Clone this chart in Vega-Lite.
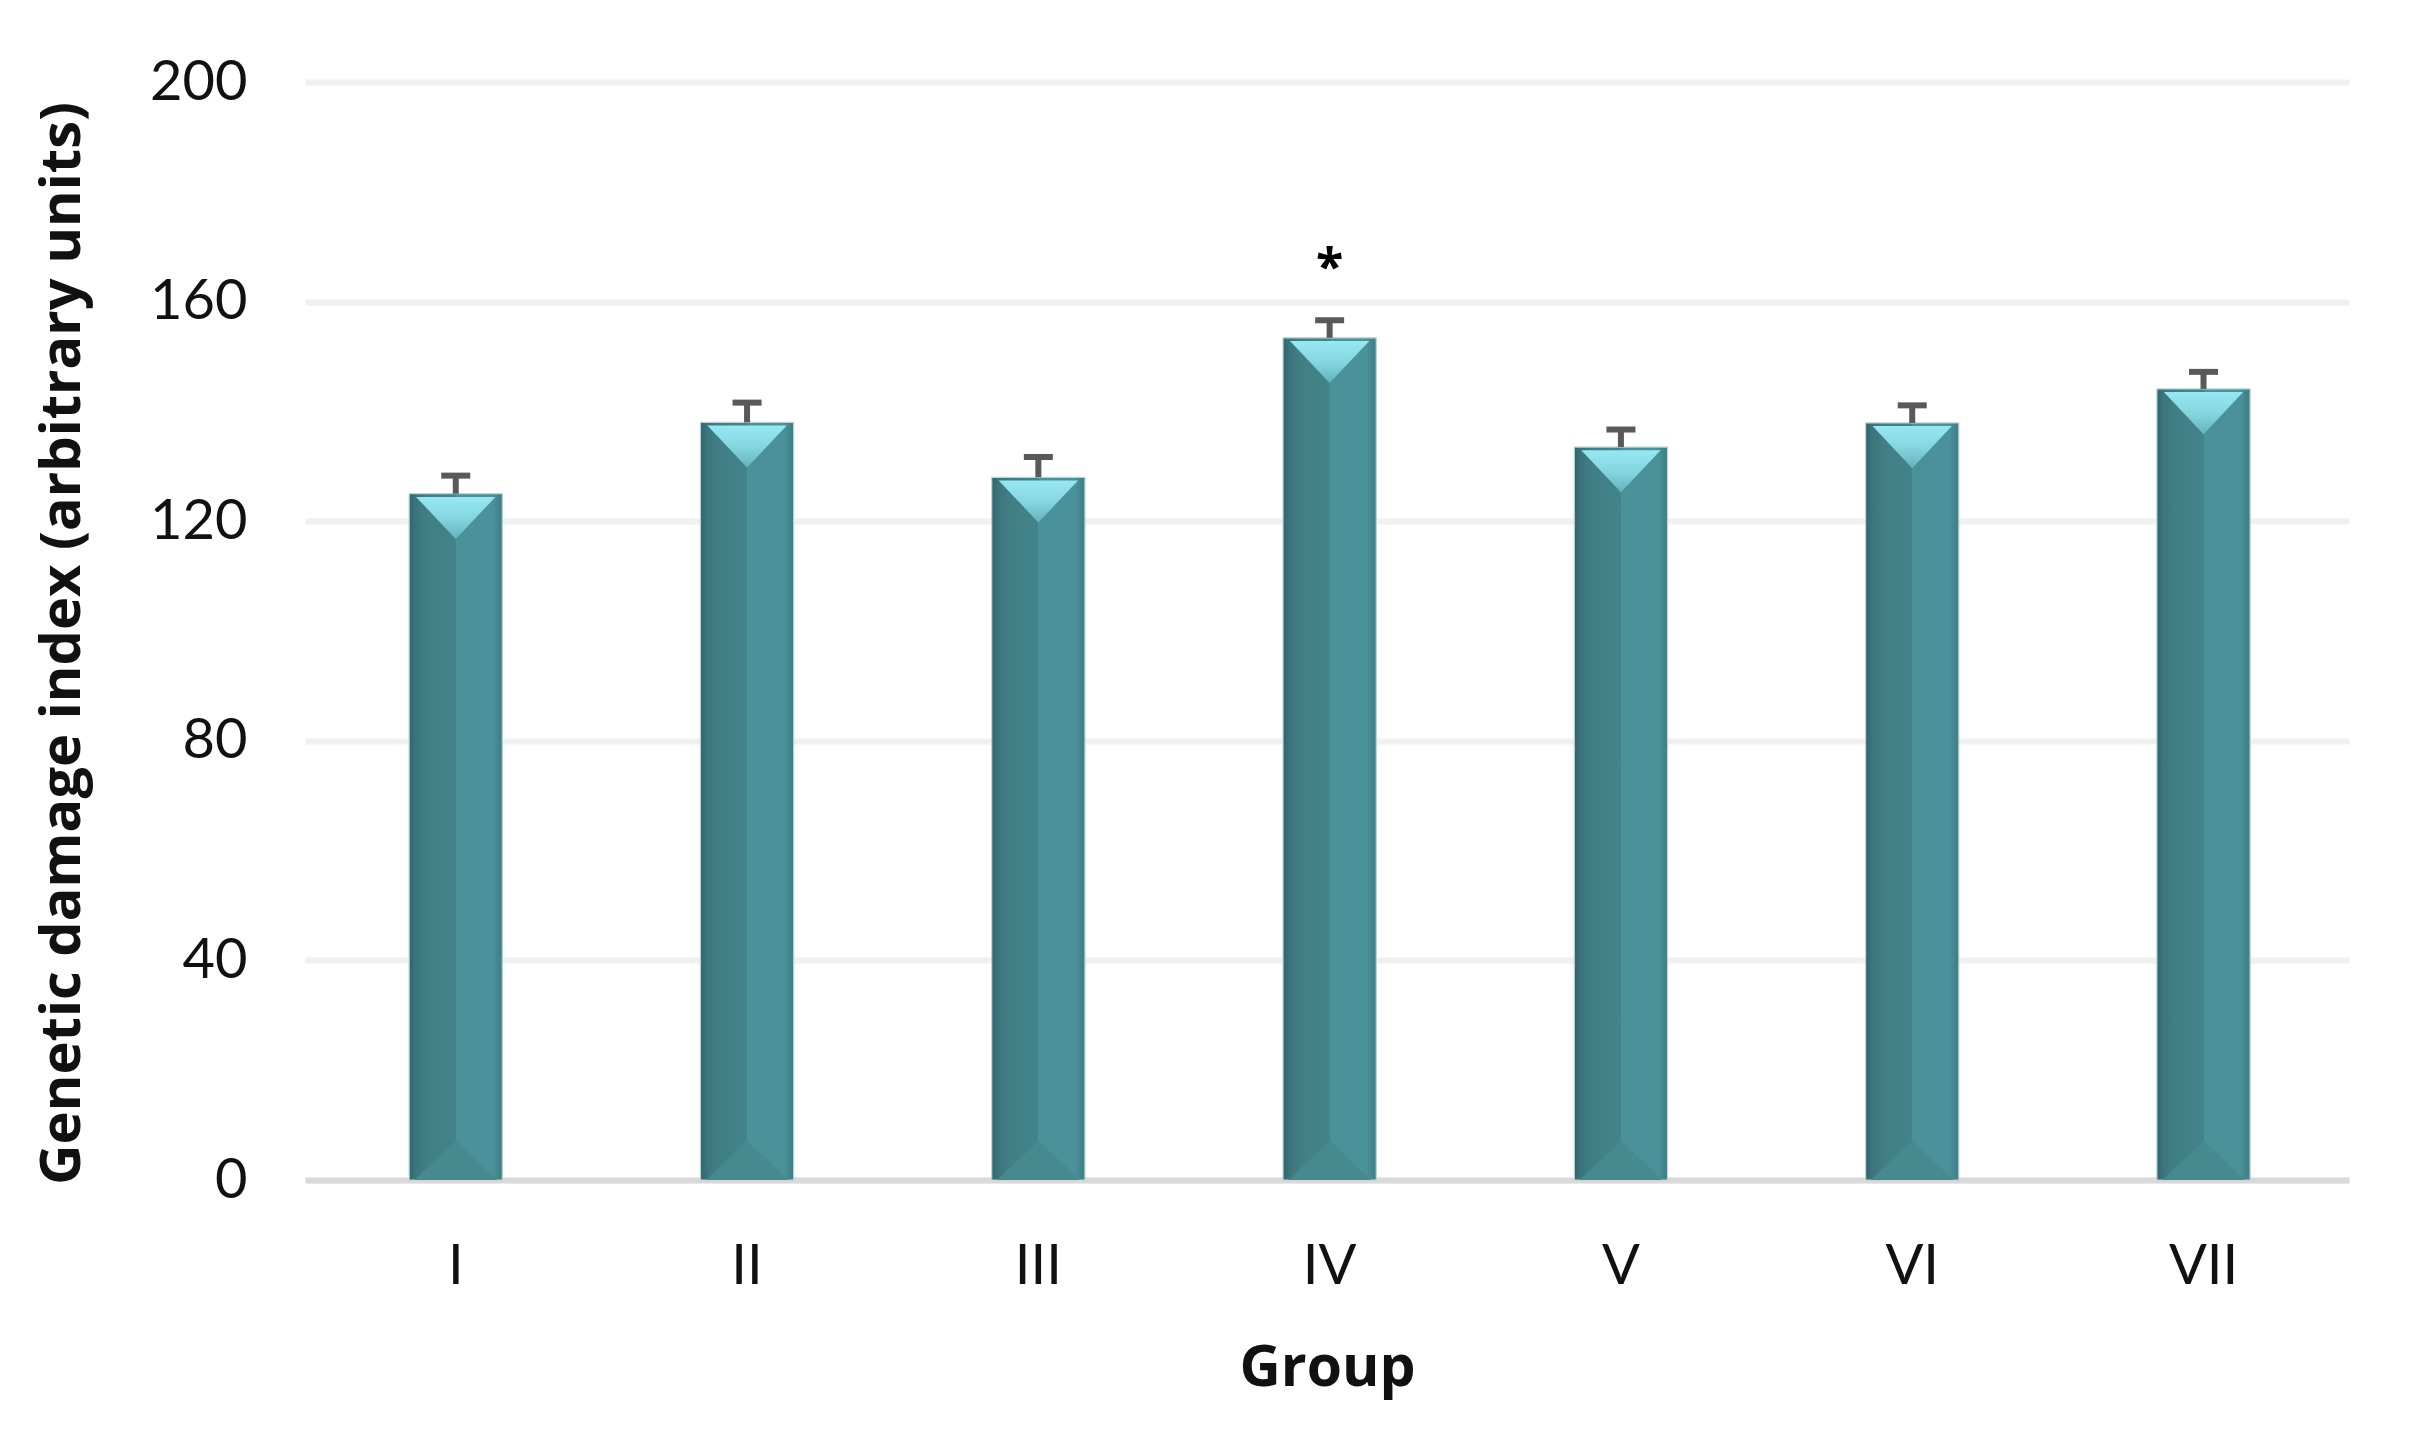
{
  "$schema": "https://vega.github.io/schema/vega-lite/v6.json",
  "width": 2044,
  "height": 1098,
  "autosize": "none",
  "padding": {"left": 305, "top": 82, "right": 69, "bottom": 260},
  "background": "white",
  "config": {
    "view": {"stroke": null},
    "font": "Lato"
  },
  "data": {
    "values": [
      {"group": "I", "mean": 125, "upper": 128.3, "sig": ""},
      {"group": "II", "mean": 138, "upper": 141.6, "sig": ""},
      {"group": "III", "mean": 128, "upper": 131.7, "sig": ""},
      {"group": "IV", "mean": 153.4, "upper": 156.6, "sig": "*"},
      {"group": "V", "mean": 133.5, "upper": 136.7, "sig": ""},
      {"group": "VI", "mean": 137.9, "upper": 141.1, "sig": ""},
      {"group": "VII", "mean": 144.1, "upper": 147.2, "sig": ""}
    ]
  },
  "encoding": {
    "x": {
      "field": "group",
      "type": "nominal",
      "sort": null,
      "scale": {"paddingInner": 0.68, "paddingOuter": 0.3485, "align": 0.513},
      "axis": {
        "title": "Group",
        "labelAngle": 0,
        "labelFont": "Lato",
        "labelFontSize": 56,
        "labelColor": "#111111",
        "labelBaseline": "alphabetic",
        "labelPadding": 103,
        "ticks": false,
        "domainColor": "#d9d9d9",
        "domainWidth": 6,
        "grid": false,
        "titleFont": "Open Sans",
        "titleFontSize": 57,
        "titleFontWeight": "bold",
        "titleColor": "#111111",
        "titleBaseline": "alphabetic",
        "titleY": 205,
        "titleX": 1022,
        "titleAlign": "center"
      }
    }
  },
  "layer": [
    {
      "mark": {
        "type": "bar",
        "stroke": "#b9d2d5",
        "strokeWidth": 1.2,
        "color": {
          "gradient": "linear",
          "x1": 0, "y1": 0, "x2": 1, "y2": 0,
          "stops": [
            {"offset": 0, "color": "#2f656c"},
            {"offset": 0.07, "color": "#3b757c"},
            {"offset": 0.2, "color": "#417f86"},
            {"offset": 0.5, "color": "#43838a"},
            {"offset": 0.5, "color": "#4a9199"},
            {"offset": 0.9, "color": "#4a9199"},
            {"offset": 0.95, "color": "#43868e"},
            {"offset": 1, "color": "#3f7e86"}
          ]
        }
      },
      "encoding": {
        "y": {
          "field": "mean",
          "type": "quantitative",
          "scale": {"domain": [0, 200]},
          "axis": {
            "values": [0, 40, 80, 120, 160, 200],
            "title": "Genetic damage index (arbitrary units)",
            "titleFont": "Open Sans",
            "titleFontSize": 56,
            "titleFontWeight": "bold",
            "titleColor": "#111111",
            "titleAngle": -90,
            "titleX": -243,
            "titleY": 561,
            "titleAlign": "center",
            "titleBaseline": "middle",
            "labelFont": "Lato",
            "labelFontSize": 56,
            "labelColor": "#111111",
            "labelPadding": 58,
            "ticks": false,
            "domain": false,
            "grid": true,
            "gridColor": "#f0f0f0",
            "gridWidth": 6
          }
        }
      }
    },
    {
      "mark": {
        "type": "point",
        "filled": true,
        "opacity": 1,
        "strokeWidth": 0,
        "shape": "M-1,0L1,0L0,-0.95Z",
        "size": 6800,
        "color": "#46898f"
      },
      "encoding": {
        "y": {"datum": 0, "type": "quantitative"}
      }
    },
    {
      "mark": {
        "type": "point",
        "filled": true,
        "opacity": 1,
        "strokeWidth": 0,
        "shape": "M-1,0.08L1,0.08L0,1.14Z",
        "size": 6300,
        "color": {
          "gradient": "linear",
          "x1": 0, "y1": 0, "x2": 0, "y2": 1,
          "stops": [
            {"offset": 0, "color": "#96e8f2"},
            {"offset": 0.5, "color": "#86d6e0"},
            {"offset": 1, "color": "#64b3bc"}
          ]
        }
      },
      "encoding": {
        "y": {"field": "mean", "type": "quantitative"}
      }
    },
    {
      "mark": {"type": "rule", "color": "#595959", "strokeWidth": 6},
      "encoding": {
        "y": {"field": "mean", "type": "quantitative"},
        "y2": {"field": "upper"}
      }
    },
    {
      "mark": {"type": "tick", "color": "#595959", "thickness": 6, "size": 29, "opacity": 1},
      "encoding": {
        "y": {"field": "upper", "type": "quantitative"}
      }
    },
    {
      "mark": {
        "type": "text",
        "font": "Open Sans",
        "fontSize": 50,
        "fontWeight": "bold",
        "color": "#000000",
        "baseline": "middle",
        "dy": -51
      },
      "encoding": {
        "y": {"field": "upper", "type": "quantitative"},
        "text": {"field": "sig"}
      }
    }
  ]
}
